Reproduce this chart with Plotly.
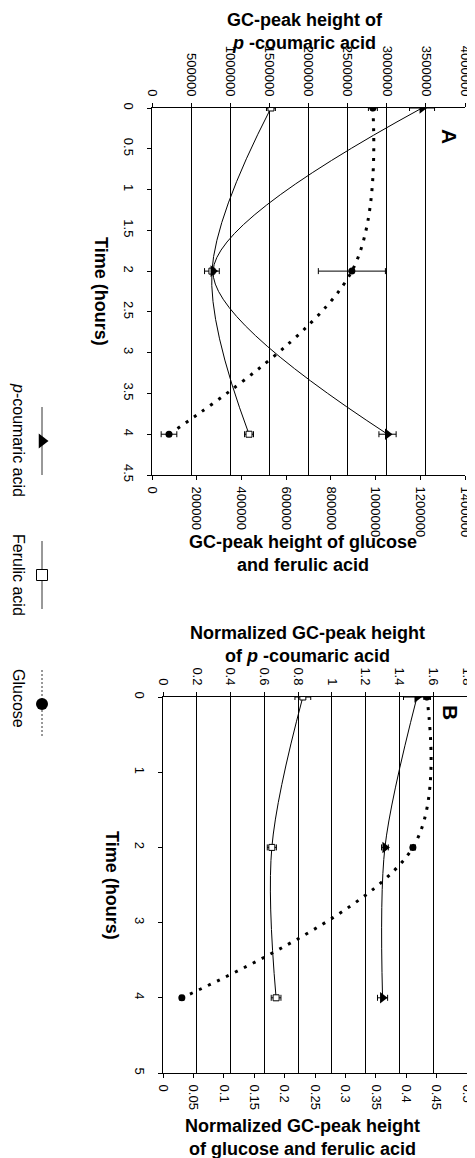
import plotly.graph_objects as go

W, H = 475, 1158
OFF = 8  # page body margin in the browser

# ---------------- data ----------------
time = [0, 2, 4]

# Panel A (raw GC-peak heights)
a_coumaric = [3451000, 780000, 3010000]
a_coumaric_err = [160000, 0, 110000]
a_ferulic = [532000, 268000, 434000]
a_ferulic_err = [20000, 33000, 20000]
a_glucose = [988000, 894000, 76000]
a_glucose_err = [20000, 150000, 35000]

# Panel B (normalized)
b_coumaric = [1.504, 1.314, 1.300]
b_coumaric_err = [0.08, 0.02, 0.03]
b_ferulic = [0.230, 0.179, 0.186]
b_ferulic_err = [0.013, 0.0075, 0.008]
b_glucose = [0.434, 0.411, 0.031]
b_glucose_err = [0.005, 0.004, 0.003]

legend_names = ["<i>p</i>-coumaric acid", "Ferulic acid", "Glucose"]

# ---------------- helpers ----------------
def px(x):
    return (x - OFF) / W

def py(y):
    return 1 - (y - OFF) / H

NARROW = "Liberation Sans Narrow, Arial Narrow, Liberation Sans, Arial"
TICKFONT = dict(family=NARROW, size=13, color="black")
TITLEFONT = dict(family=NARROW, size=18, color="black", weight="bold")
LEGFONT = dict(family="Liberation Sans, Arial", size=16, color="black")

fig = go.Figure()

def err(arr):
    return dict(type="data", array=arr, visible=True, color="black", thickness=1, width=3)

def add_panel(xb, xt, ya, cou, cou_e, fer, fer_e, glu, glu_e):
    fig.add_trace(go.Scatter(x=glu, y=time, xaxis=xb, yaxis=ya, mode="lines+markers",
                             line=dict(color="black", width=3, dash="3px,7px", shape="spline"),
                             marker=dict(symbol="circle", size=7, color="black"),
                             error_x=err(glu_e), showlegend=False))
    fig.add_trace(go.Scatter(x=cou, y=time, xaxis=xt, yaxis=ya, mode="lines+markers",
                             line=dict(color="black", width=1, shape="spline", smoothing=0.9),
                             marker=dict(symbol="triangle-right", size=10, color="black"),
                             error_x=err(cou_e), showlegend=False))
    fig.add_trace(go.Scatter(x=fer, y=time, xaxis=xb, yaxis=ya, mode="lines+markers",
                             line=dict(color="black", width=1, shape="spline"),
                             marker=dict(symbol="square", size=6, color="white", line=dict(color="black", width=1)),
                             error_x=err(fer_e), showlegend=False))

add_panel("x", "x2", "y", a_coumaric, a_coumaric_err, a_ferulic, a_ferulic_err, a_glucose, a_glucose_err)
add_panel("x3", "x4", "y2", b_coumaric, b_coumaric_err, b_ferulic, b_ferulic_err, b_glucose, b_glucose_err)

# ---------------- custom rotated legend ----------------
leg_centers = [441, 575, 704]
leg_x = 42
leg_half = 34
leg_styles = [
    dict(line=dict(color="#333", width=1), marker=dict(symbol="triangle-right", size=13, color="black")),
    dict(line=dict(color="#333", width=1), marker=dict(symbol="square", size=11, color="white", line=dict(color="black", width=1))),
    dict(line=dict(color="#333", width=1, dash="2px,2px"), marker=dict(symbol="circle", size=12, color="black")),
]
for c, st in zip(leg_centers, leg_styles):
    fig.add_trace(go.Scatter(x=[leg_x, leg_x], y=[c - leg_half, c + leg_half], xaxis="x5", yaxis="y3",
                             mode="lines", line=st["line"], showlegend=False, hoverinfo="skip"))
    fig.add_trace(go.Scatter(x=[leg_x], y=[c], xaxis="x5", yaxis="y3",
                             mode="markers", marker=st["marker"], showlegend=False, hoverinfo="skip"))

common = dict(showline=True, linecolor="black", linewidth=1, ticks="outside", ticklen=4,
              tickcolor="black", tickfont=TICKFONT, zeroline=False, tickangle=90, automargin=False)

fig.update_layout(
    width=W, height=H, margin=dict(l=0, r=0, t=0, b=0, autoexpand=False),
    paper_bgcolor="white", plot_bgcolor="white", showlegend=False,
    # Panel A
    xaxis=dict(domain=[px(152), px(465)], anchor="y", side="bottom", range=[0, 1400000],
               dtick=200000, tickformat="d", showgrid=False, ticklabelstandoff=4, **common),
    xaxis2=dict(overlaying="x", anchor="y", side="top", range=[0, 4000000], dtick=500000,
                tickformat="d", showgrid=True, gridcolor="black", gridwidth=1, ticklabelstandoff=2, **common),
    yaxis=dict(domain=[py(475), py(108)], anchor="x", range=[4.5, 0], dtick=0.5, showgrid=False,
               ticklabelstandoff=7, **common),
    # Panel B
    xaxis3=dict(domain=[px(163), px(467)], anchor="y2", side="bottom", range=[0, 0.5],
                dtick=0.05, showgrid=False, ticklabelstandoff=4, **common),
    xaxis4=dict(overlaying="x3", anchor="y2", side="top", range=[0, 1.8], dtick=0.2,
                showgrid=True, gridcolor="black", gridwidth=1, ticklabelstandoff=2, **common),
    yaxis2=dict(domain=[py(1073), py(697)], anchor="x3", range=[5, 0], dtick=1, showgrid=False,
                ticklabelstandoff=7, **common),
    # legend axes (pixel coordinates of the page)
    xaxis5=dict(domain=[0, 95 / W], anchor="y3", range=[OFF, 95 + OFF], visible=False),
    yaxis3=dict(domain=[0, 1], anchor="x5", range=[H + OFF, OFF], visible=False),
)

ann = []
def A(text, x, y, font, angle=0):
    ann.append(dict(text=text, x=px(x), y=py(y), xref="paper", yref="paper", showarrow=False,
                    font=font, textangle=angle, xanchor="center", yanchor="middle", align="center"))

A("GC-peak height of<br><i>p</i> -coumaric acid", 305, 31, TITLEFONT)
A("GC-peak height of glucose<br>and ferulic acid", 303, 553, TITLEFONT)
A("Normalized GC-peak height<br>of <i>p</i> -coumaric acid", 307, 644, TITLEFONT)
A("Normalized GC-peak height<br>of glucose and ferulic acid", 302, 1137, TITLEFONT)
A("Time (hours)", 101, 291, TITLEFONT, 90)
A("Time (hours)", 112, 885, TITLEFONT, 90)
A("A", 450, 136, dict(family="Liberation Sans, Arial", size=21, color="black", weight="bold"), 90)
A("B", 451, 712, dict(family="Liberation Sans, Arial", size=21, color="black", weight="bold"), 90)
for c, name in zip([440, 575, 698], legend_names):
    A(name, 19, c, LEGFONT, 90)

fig.update_layout(annotations=ann)
fig.write_html("out.html")
